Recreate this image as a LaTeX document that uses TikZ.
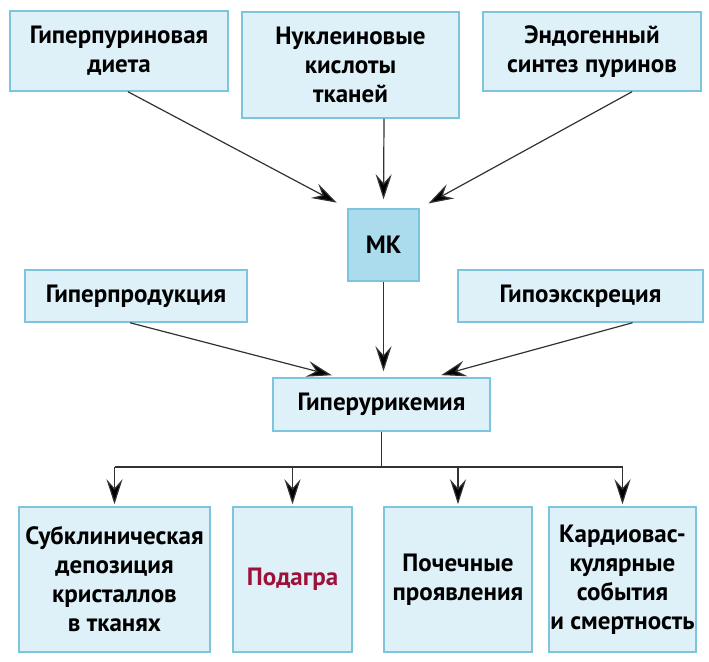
\documentclass[tikz,border=0pt]{standalone}
\usepackage{fontspec}
\setmainfont{PT Sans}
\usetikzlibrary{arrows.meta}
\definecolor{boxfill}{RGB}{222,241,249}
\definecolor{boxline}{RGB}{125,196,220}
\definecolor{mkfill}{RGB}{170,220,238}
\definecolor{goutred}{RGB}{158,18,58}
\definecolor{arrowgray}{RGB}{50,50,50}

\begin{document}
\begin{tikzpicture}[x=1pt,y=-1pt,
  box/.style={draw=boxline,fill=boxfill,line width=1.5pt,align=center,inner sep=0pt,
    font=\fontsize{25}{29}\selectfont\bfseries},
  arr/.style={draw=arrowgray,line width=1.2pt,-{Stealth[length=25pt,width=16pt,inset=9pt,fill=black]}}]
  \useasboundingbox (0,0) rectangle (709,661);
  \node[box,minimum width=218,minimum height=80] (diet) at (119,51) {Гиперпуриновая\\диета};
  \node[box,minimum width=217,minimum height=106] (nucl) at (350.5,65) {Нуклеиновые\\кислоты\\тканей};
  \node[box,minimum width=218,minimum height=79] (endo) at (592,51.5) {Эндогенный\\синтез пуринов};
  \node[box,fill=mkfill,minimum width=71,minimum height=72] (mk) at (383.5,245) {МК};
  \node[box,minimum width=222,minimum height=52] (prod) at (136,296) {Гиперпродукция};
  \node[box,minimum width=245,minimum height=52] (excr) at (580.5,296) {Гипоэкскреция};
  \node[box,minimum width=217,minimum height=53] (hyper) at (381.5,404.5) {Гиперурикемия};
  \node[box,minimum width=191,minimum height=145] (sub) at (114.5,579.5) {Субклиническая\\депозиция\\кристаллов\\в тканях};
  \node[box,minimum width=119,minimum height=145,text=goutred] (gout) at (292.5,579.5) {Подагра};
  \node[box,minimum width=148,minimum height=145] (kidney) at (458,579.5) {Почечные\\проявления};
  \node[box,minimum width=147,minimum height=145] (cardio) at (622.5,579.5) {Кардиовас-\\кулярные\\события\\и смертность};

  \draw[arr,shorten >=12pt] ([xshift=9pt]diet.south) -- (mk.north west);
  \draw[arr,shorten >=9pt] ([xshift=33.5pt]nucl.south) -- (mk.north);
  \draw[arr,shorten >=10pt] ([xshift=40pt]endo.south) -- (mk.north east);
  \draw[arr,shorten >=6pt] (mk.south) -- (mk.south |- hyper.north);
  \draw[arr,shorten >=8pt] ([xshift=-6pt]prod.south) -- ([xshift=-42pt]hyper.north);
  \draw[arr,shorten >=8pt] ([xshift=52pt]excr.south) -- ([xshift=52pt]hyper.north);

  \coordinate (bus) at (381.5,467);
  \draw[arrowgray,line width=1.2pt] (hyper.south) -- (bus);
  \draw[arrowgray,line width=1.2pt] (sub.north |- bus) -- (cardio.north |- bus);
  \foreach \b in {sub,gout,kidney,cardio}{
    \draw[arr,shorten >=2pt] (\b.north |- bus) -- (\b.north);
  }
\end{tikzpicture}
\end{document}
